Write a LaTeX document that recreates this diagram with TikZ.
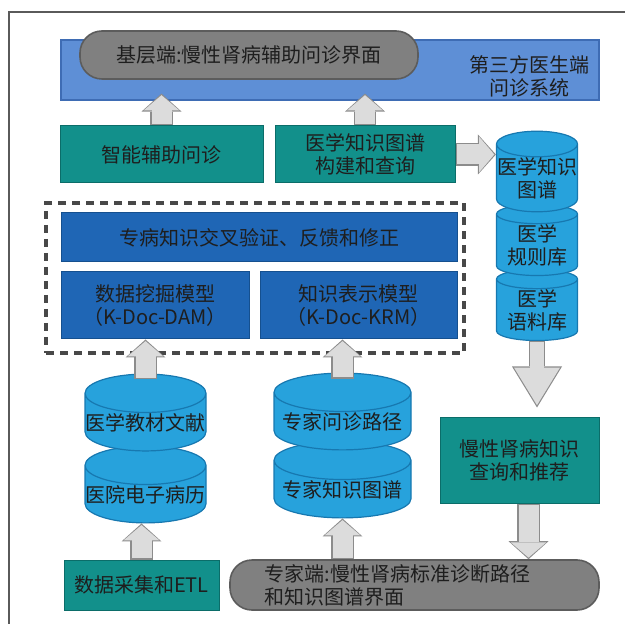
\documentclass[tikz,border=0pt]{standalone}
\usepackage{fontspec}
\setmainfont{Noto Sans CJK SC}
\usepackage{tikz}
\usetikzlibrary{positioning,arrows.meta,shapes.geometric,calc}
\usepackage{xcolor}
\definecolor{barblue}{HTML}{5E8FD6}
\definecolor{barline}{HTML}{3E6CB4}
\definecolor{pillgray}{HTML}{808080}
\definecolor{pillline}{HTML}{5C5C5C}
\definecolor{tealbox}{HTML}{12908B}
\definecolor{tealline}{HTML}{0B6D69}
\definecolor{deepblue}{HTML}{1F66B5}
\definecolor{deepline}{HTML}{15508F}
\definecolor{cylblue}{HTML}{27A2DC}
\definecolor{cylline}{HTML}{1778B0}
\definecolor{arrfill}{HTML}{DCDCDC}
\definecolor{arrline}{HTML}{8C8C8C}
\definecolor{ink}{HTML}{1E1E1E}
\definecolor{framec}{HTML}{5A5A5A}

\begin{document}
\begin{tikzpicture}[x=0.5pt, y=-0.5pt, font=\fontsize{10}{11.5}\selectfont, text=ink,
    tbox/.style={draw=tealline, fill=tealbox, line width=0.5pt, align=center, inner sep=0pt},
    bbox/.style={draw=deepline, fill=deepblue, line width=0.5pt, align=center, inner sep=0pt},
    pill/.style={draw=pillline, fill=pillgray, line width=0.8pt, rounded corners=11pt, inner sep=0pt},
    db/.style={cylinder, shape border rotate=90, aspect=0.32, draw=cylline, fill=cylblue,
      line width=0.6pt, align=center, inner sep=0pt, anchor=shape center},
    fatarr/.style={draw=arrfill, line width=10pt, shorten >=0.8pt, shorten <=0.6pt,
      -{Triangle[length=7.6pt,width=17.8pt,line width=0pt]},
      preaction={draw=arrline, line width=11.2pt, shorten >=0pt, shorten <=0pt,
        -{Triangle[length=9pt,width=20pt,line width=0pt]}}},
    bigarr/.style={draw=arrfill, line width=7pt, shorten >=1.15pt, shorten <=0.6pt,
      -{Triangle[length=18.8pt,width=23pt,line width=0pt]},
      preaction={draw=arrline, line width=8.2pt, shorten >=0pt, shorten <=0pt,
        -{Triangle[length=20.5pt,width=25pt,line width=0pt]}}}]
  \useasboundingbox (0,0) rectangle (625,624);
  \draw[framec, line width=1pt] (9,624) -- (9,12.5) -- (625,12.5);

  % top: third-party system
  \node[draw=barline, fill=barblue, line width=0.6pt, minimum width=269pt, minimum height=30pt] (sysbar) at (330,70) {};
  \node[pill, minimum width=169pt, minimum height=24pt] (topui) at (249,55) {基层端:慢性肾病辅助问诊界面};
  \node[align=center] (systxt) at (529,76) {第三方医生端\\问诊系统};

  \node[tbox, minimum width=101.5pt, minimum height=28.5pt] (assist) at (161.5,154.5) {智能辅助问诊};
  \node[tbox, minimum width=90pt, minimum height=28.5pt] (kgbuild) at (365,154.5) {医学知识图谱\\构建和查询};

  % models
  \node[draw=framec!80!black, line width=1.6pt, dash pattern=on 4pt off 3pt, minimum width=209pt, minimum height=75pt] (dashbox) at (255,278) {};
  \node[bbox, minimum width=198pt, minimum height=24.5pt] (cvbox) at (259,237.5) {专病知识交叉验证、反馈和修正};
  \node[bbox, minimum width=94pt, minimum height=33.5pt] (dam) at (155,305.5) {数据挖掘模型\\（K-Doc-DAM）};
  \node[bbox, minimum width=98.5pt, minimum height=33.5pt] (krm) at (358.5,305.5) {知识表示模型\\（K-Doc-KRM）};

  % databases
  \node[db, minimum width=40.5pt, minimum height=35pt] (dbcorp) at (537,305) {医学\\语料库};
  \node[db, minimum width=40.5pt, minimum height=34pt] (dbrule) at (537,240) {医学\\规则库};
  \node[db, minimum width=40.5pt, minimum height=38.5pt] (dbkg) at (537,171.5) {医学知识\\图谱};
  \node[db, minimum width=60.5pt, minimum height=37.5pt] (dbemr) at (145.5,484.5) {医院电子病历};
  \node[db, minimum width=60.5pt, minimum height=37.5pt] (dbbook) at (145.5,412.5) {医学教材文献};
  \node[db, minimum width=68.5pt, minimum height=35.5pt] (dbexpkg) at (342.5,479.5) {专家知识图谱};
  \node[db, minimum width=68.5pt, minimum height=36.5pt] (dbpath) at (342.5,411.5) {专家问诊路径};

  \node[tbox, minimum width=79.5pt, minimum height=43pt] (recbox) at (519.5,460) {慢性肾病知识\\查询和推荐};
  \node[tbox, minimum width=77.5pt, minimum height=25pt] (etlbox) at (141.5,585) {数据采集和ETL};
  \node[pill, minimum width=184.5pt, minimum height=25pt, align=left, text width=150pt] (expui) at (414.5,585) {专家端:慢性肾病标准诊断路径\\和知识图谱界面};

  % block arrows
  \draw[fatarr] (assist.north) -- ($(assist.north |- sysbar.south)+(0,-7)$);
  \draw[fatarr] (kgbuild.north) -- ($(kgbuild.north |- sysbar.south)+(0,-7)$);
  \draw[fatarr] (kgbuild.east) -- (kgbuild.east -| dbkg.west);
  \draw[fatarr] ($(dbbook.north)+(0,6)$) -- (dbbook.north |- dam.south);
  \draw[fatarr] ($(dbpath.north)+(0,6)$) -- (dbpath.north |- krm.south);
  \draw[bigarr] (dbcorp.south) -- ($(dbcorp.south |- recbox.north)+(0,-9)$);
  \coordinate (recout) at ($(recbox.south)+(9,0)$);
  \draw[fatarr] (recout) -- (recout |- expui.north);
  \draw[fatarr] (etlbox.north) -- (etlbox.north |- dbemr.south);
  \draw[fatarr] (dbexpkg.south |- expui.north) -- (dbexpkg.south);
\end{tikzpicture}
\end{document}
